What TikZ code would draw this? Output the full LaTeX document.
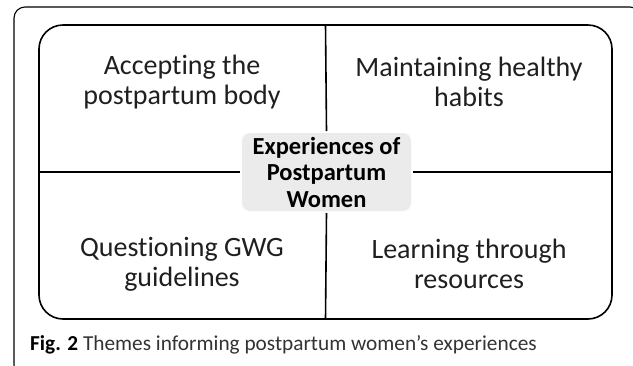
\documentclass[tikz,border=0pt]{standalone}
\usepackage{fontspec}
\setmainfont{Carlito}[RawFeature={-liga;-clig;-calt}]
\usepackage{tikz}
\usetikzlibrary{positioning,calc}

\begin{document}
\begin{tikzpicture}[x=1pt,y=-1pt,
theme/.style={align=center,font=\fontsize{28}{30}\selectfont,text=black!88},
core/.style={fill=black!8,rounded corners=8pt,align=center,inner sep=0pt,
  minimum width=169pt,minimum height=78pt,outer sep=2pt,
  font=\bfseries\fontsize{24.5}{26.5}\selectfont},
sep/.style={line width=1.6pt}]
\useasboundingbox (0,0) rectangle (633,365);
\clip (0,0) rectangle (633,365);
\draw[line width=1.1pt,rounded corners=11pt] (14,7) rectangle (641,376);
\node (frame) at (325.5,172) [draw,line width=1.6pt,rounded corners=24pt,
  minimum width=573pt,minimum height=294pt] {};
\node (core) at (326.5,172) [core] {Experiences of\\Postpartum\\Women};
\node (q1) at (182,82) [theme] {Accepting the\\postpartum body};
\node (q2) at (469,82) [theme] {Maintaining healthy\\habits};
\node (q3) at (182,264) [theme] {Questioning GWG\\guidelines};
\node (q4) at (469,264) [theme] {Learning through\\resources};
\node (caption) at (30,350) [anchor=base west,inner sep=0pt,text=black!80,
  font=\fontsize{21.3}{24}\selectfont] {\textbf{\color{black}Fig. 2} Themes informing postpartum women’s experiences};

\draw[sep] (frame.north) edge (core.north);
\draw[sep] (core.south) edge (frame.south);
\draw[sep] (frame.west) edge (core.west);
\draw[sep] (core.east) edge (frame.east);

\end{tikzpicture}
\end{document}
